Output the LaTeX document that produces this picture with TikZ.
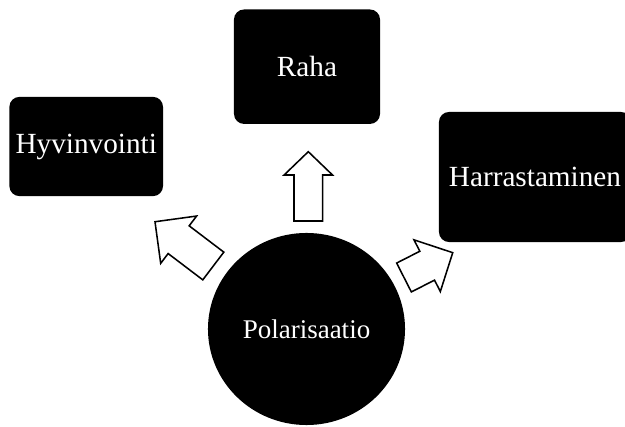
\documentclass[tikz,border=0pt]{standalone}
\usepackage{fontspec}
\setmainfont{Liberation Serif}
\usetikzlibrary{shapes.geometric}

\tikzset{
  topicbox/.style={fill=black, rounded corners=0.25cm, inner sep=0pt, text=white,
    font=\fontsize{20.8}{25}\selectfont},
  centerdisc/.style={ellipse, fill=black, inner sep=0pt, text=white,
    font=\fontsize{19.2}{23}\selectfont},
  arrowline/.style={draw=black, fill=white, line width=1.1pt, line join=miter}
}

% block arrow: tail centre, angle, length, half shaft, half head, head length
\newcommand{\blockarrow}[6]{%
  \draw[arrowline, shift={#1}, rotate=#2]
    (0,-#4) -- ({#3-#6},-#4) -- ({#3-#6},-#5) -- (#3,0)
    -- ({#3-#6},#5) -- ({#3-#6},#4) -- (0,#4) -- cycle;}

\begin{document}
\begin{tikzpicture}[x=0.025cm, y=0.025cm]
  \useasboundingbox (0,0) rectangle (625,427);

  \node[topicbox, minimum width=3.65cm, minimum height=2.86cm] (raha) at (307,360.3) {Raha};
  \node[topicbox, minimum width=3.84cm, minimum height=2.48cm] (hyvinvointi) at (86.2,280.5) {Hyvinvointi};
  \node[topicbox, minimum width=4.8cm, minimum height=3.25cm] (harrastaminen) at (535,250) {Harrastaminen};
  \node[centerdisc, minimum width=4.925cm, minimum height=4.8cm] (polarisaatio) at (306.5,98) {Polarisaatio};

  % arrows out of the disc
  \blockarrow{(308.3,206)}{90}{69.3}{14.3}{24.2}{23.3}
  \blockarrow{(213.3,161)}{142.8}{73.2}{17.4}{29.7}{29.7}
  \blockarrow{(404,149.5)}{27}{54.7}{16.2}{29}{28.7}
\end{tikzpicture}
\end{document}
